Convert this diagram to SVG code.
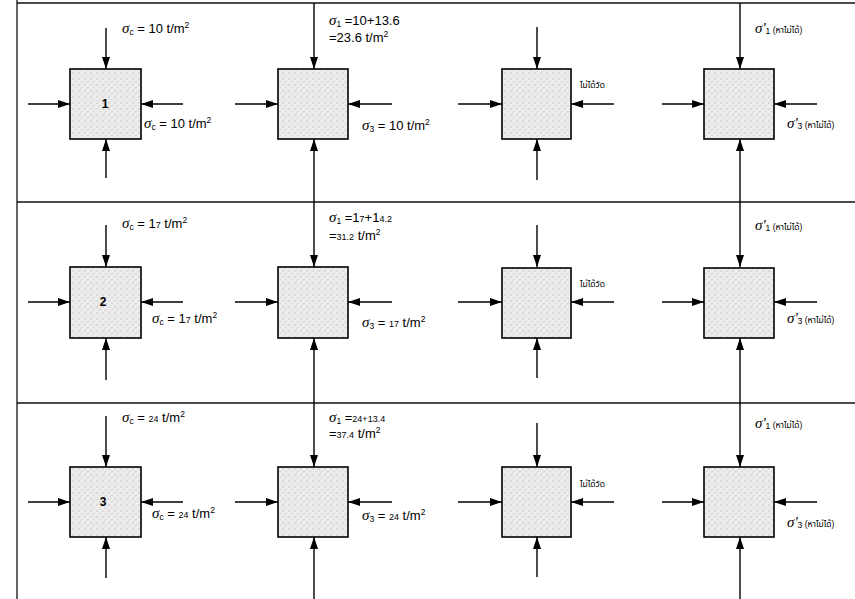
<svg xmlns="http://www.w3.org/2000/svg" width="855" height="599" viewBox="0 0 855 599">
<style>
.frame{stroke:#111;stroke-width:1.3;fill:none}
.conn line{stroke:#000;stroke-width:1.4}
.box{fill:url(#dots);stroke:#000;stroke-width:1.6}
text{font-family:"Liberation Sans",Arial,"Noto Sans Thai","Noto Sans",sans-serif;fill:#000}
.lbl{font-size:13px}
.sig{font-family:"Liberation Serif","Times New Roman",serif;font-style:italic;font-size:15px}
.sub{font-size:8.5px}
.sup{font-size:8.5px}
.sm{font-size:9px}
.th{font-size:8.5px}
.num{font-size:12px;font-weight:bold}
</style>
<defs>
<pattern id="dots" width="6" height="6" patternUnits="userSpaceOnUse">
<rect width="6" height="6" fill="#ececec"/>
<circle cx="1" cy="1" r="0.55" fill="#9a9a9a"/>
<circle cx="4" cy="3.5" r="0.5" fill="#b0b0b0"/>
<circle cx="2.5" cy="5" r="0.45" fill="#c0c0c0"/>
</pattern>
<marker id="ah" viewBox="0 0 12 8" refX="12" refY="4" markerWidth="12" markerHeight="8" markerUnits="userSpaceOnUse" orient="auto">
<path d="M0,0 L12,4 L0,8 z" fill="#000"/>
</marker>
</defs>
<rect width="855" height="599" fill="#fff"/>
<g id="frame" class="frame">
<line x1="17" y1="3" x2="855" y2="3"/>
<line x1="17" y1="202" x2="855" y2="202"/>
<line x1="17" y1="403" x2="855" y2="403"/>
<line x1="17" y1="0" x2="17" y2="599"/>
</g>
<g id="connectors" class="conn">
<line x1="106" y1="28" x2="106" y2="69" marker-end="url(#ah)"/>
<line x1="106" y1="178" x2="106" y2="139" marker-end="url(#ah)"/>
<line x1="28" y1="104" x2="70" y2="104" marker-end="url(#ah)"/>
<line x1="183" y1="104" x2="141" y2="104" marker-end="url(#ah)"/>
<line x1="314" y1="3" x2="314" y2="69" marker-end="url(#ah)"/>
<line x1="314" y1="202" x2="314" y2="139" marker-end="url(#ah)"/>
<line x1="235" y1="104" x2="278" y2="104" marker-end="url(#ah)"/>
<line x1="392" y1="104" x2="348" y2="104" marker-end="url(#ah)"/>
<line x1="537" y1="27" x2="537" y2="69" marker-end="url(#ah)"/>
<line x1="537" y1="180" x2="537" y2="139" marker-end="url(#ah)"/>
<line x1="458" y1="104" x2="502" y2="104" marker-end="url(#ah)"/>
<line x1="614" y1="104" x2="571" y2="104" marker-end="url(#ah)"/>
<line x1="740" y1="3" x2="740" y2="69" marker-end="url(#ah)"/>
<line x1="740" y1="202" x2="740" y2="139" marker-end="url(#ah)"/>
<line x1="662" y1="104" x2="704" y2="104" marker-end="url(#ah)"/>
<line x1="817" y1="104" x2="774" y2="104" marker-end="url(#ah)"/>
<line x1="106" y1="225" x2="106" y2="267" marker-end="url(#ah)"/>
<line x1="106" y1="380" x2="106" y2="338" marker-end="url(#ah)"/>
<line x1="28" y1="302" x2="70" y2="302" marker-end="url(#ah)"/>
<line x1="183" y1="302" x2="141" y2="302" marker-end="url(#ah)"/>
<line x1="314" y1="202" x2="314" y2="267" marker-end="url(#ah)"/>
<line x1="314" y1="403" x2="314" y2="338" marker-end="url(#ah)"/>
<line x1="235" y1="302" x2="278" y2="302" marker-end="url(#ah)"/>
<line x1="392" y1="302" x2="348" y2="302" marker-end="url(#ah)"/>
<line x1="537" y1="225" x2="537" y2="267" marker-end="url(#ah)"/>
<line x1="537" y1="378" x2="537" y2="338" marker-end="url(#ah)"/>
<line x1="458" y1="302" x2="502" y2="302" marker-end="url(#ah)"/>
<line x1="614" y1="302" x2="571" y2="302" marker-end="url(#ah)"/>
<line x1="740" y1="202" x2="740" y2="267" marker-end="url(#ah)"/>
<line x1="740" y1="403" x2="740" y2="338" marker-end="url(#ah)"/>
<line x1="662" y1="302" x2="704" y2="302" marker-end="url(#ah)"/>
<line x1="817" y1="302" x2="774" y2="302" marker-end="url(#ah)"/>
<line x1="106" y1="416" x2="106" y2="467" marker-end="url(#ah)"/>
<line x1="106" y1="578" x2="106" y2="537" marker-end="url(#ah)"/>
<line x1="28" y1="502" x2="70" y2="502" marker-end="url(#ah)"/>
<line x1="183" y1="502" x2="141" y2="502" marker-end="url(#ah)"/>
<line x1="314" y1="403" x2="314" y2="467" marker-end="url(#ah)"/>
<line x1="314" y1="599" x2="314" y2="537" marker-end="url(#ah)"/>
<line x1="235" y1="502" x2="278" y2="502" marker-end="url(#ah)"/>
<line x1="392" y1="502" x2="348" y2="502" marker-end="url(#ah)"/>
<line x1="537" y1="423" x2="537" y2="467" marker-end="url(#ah)"/>
<line x1="537" y1="577" x2="537" y2="537" marker-end="url(#ah)"/>
<line x1="458" y1="502" x2="502" y2="502" marker-end="url(#ah)"/>
<line x1="614" y1="502" x2="571" y2="502" marker-end="url(#ah)"/>
<line x1="740" y1="403" x2="740" y2="467" marker-end="url(#ah)"/>
<line x1="740" y1="599" x2="740" y2="537" marker-end="url(#ah)"/>
<line x1="662" y1="502" x2="704" y2="502" marker-end="url(#ah)"/>
<line x1="817" y1="502" x2="774" y2="502" marker-end="url(#ah)"/>
</g>
<g id="n1a"><rect class="box" x="70" y="69" width="71" height="70"/><text class="num" x="105" y="108" text-anchor="middle">1</text></g>
<g id="n1b"><rect class="box" x="278" y="69" width="70" height="70"/></g>
<g id="n1c"><rect class="box" x="502" y="69" width="69" height="70"/></g>
<g id="n1d"><rect class="box" x="704" y="69" width="70" height="70"/></g>
<g id="n2a"><rect class="box" x="70" y="267" width="71" height="71"/><text class="num" x="103" y="306" text-anchor="middle" font-size="10">2</text></g>
<g id="n2b"><rect class="box" x="278" y="267" width="70" height="71"/></g>
<g id="n2c"><rect class="box" x="502" y="268" width="69" height="70"/></g>
<g id="n2d"><rect class="box" x="704" y="268" width="70" height="70"/></g>
<g id="n3a"><rect class="box" x="70" y="467" width="71" height="70"/><text class="num" x="103" y="506" text-anchor="middle" font-size="10">3</text></g>
<g id="n3b"><rect class="box" x="278" y="467" width="70" height="70"/></g>
<g id="n3c"><rect class="box" x="502" y="467" width="69" height="70"/></g>
<g id="n3d"><rect class="box" x="704" y="467" width="70" height="70"/></g>
<g id="labels">
<text class="lbl" x="122" y="33"><tspan class="sig">σ</tspan><tspan class="sub" dy="2">c</tspan><tspan dy="-2"> = 10 t/m</tspan><tspan class="sup" dy="-5">2</tspan></text>
<text class="lbl" x="144" y="128"><tspan class="sig">σ</tspan><tspan class="sub" dy="2">c</tspan><tspan dy="-2"> = 10 t/m</tspan><tspan class="sup" dy="-5">2</tspan></text>
<text class="lbl" x="329" y="25"><tspan class="sig">σ</tspan><tspan class="sub" dy="2">1</tspan><tspan dy="-2"> =10+13.6</tspan></text>
<text class="lbl" x="329" y="42">=23.6 t/m<tspan class="sup" dy="-5">2</tspan></text>
<text class="lbl" x="362" y="130"><tspan class="sig">σ</tspan><tspan class="sub" dy="2">3</tspan><tspan dy="-2"> = 10 t/m</tspan><tspan class="sup" dy="-5">2</tspan></text>
<text class="th" x="580" y="88">ไม่ได้วัด</text>
<text class="lbl" x="755" y="33"><tspan class="sig">σ'</tspan><tspan class="sub" dy="1">1</tspan><tspan class="th" dy="-1"> (หาไม่ได้)</tspan></text>
<text class="lbl" x="787" y="128"><tspan class="sig">σ'</tspan><tspan class="sub" dy="1">3</tspan><tspan class="th" dy="-1"> (หาไม่ได้)</tspan></text>
<text class="lbl" x="122" y="228"><tspan class="sig">σ</tspan><tspan class="sub" dy="2">c</tspan><tspan dy="-2"> = 1</tspan><tspan class="sm">7</tspan><tspan> t/m</tspan><tspan class="sup" dy="-5">2</tspan></text>
<text class="lbl" x="152" y="323"><tspan class="sig">σ</tspan><tspan class="sub" dy="2">c</tspan><tspan dy="-2"> = 1</tspan><tspan class="sm">7</tspan><tspan> t/m</tspan><tspan class="sup" dy="-5">2</tspan></text>
<text class="lbl" x="329" y="222"><tspan class="sig">σ</tspan><tspan class="sub" dy="2">1</tspan><tspan dy="-2"> =1</tspan><tspan class="sm">7</tspan><tspan>+1</tspan><tspan class="sm">4.2</tspan></text>
<text class="lbl" x="329" y="240">=<tspan class="sm">31.2</tspan> t/m<tspan class="sup" dy="-5">2</tspan></text>
<text class="lbl" x="362" y="327"><tspan class="sig">σ</tspan><tspan class="sub" dy="2">3</tspan><tspan dy="-2"> = </tspan><tspan class="sm">17</tspan><tspan> t/m</tspan><tspan class="sup" dy="-5">2</tspan></text>
<text class="th" x="580" y="287">ไม่ได้วัด</text>
<text class="lbl" x="755" y="230"><tspan class="sig">σ'</tspan><tspan class="sub" dy="1">1</tspan><tspan class="th" dy="-1"> (หาไม่ได้)</tspan></text>
<text class="lbl" x="787" y="323"><tspan class="sig">σ'</tspan><tspan class="sub" dy="1">3</tspan><tspan class="th" dy="-1"> (หาไม่ได้)</tspan></text>
<text class="lbl" x="122" y="422"><tspan class="sig">σ</tspan><tspan class="sub" dy="2">c</tspan><tspan dy="-2"> = </tspan><tspan class="sm">24</tspan><tspan> t/m</tspan><tspan class="sup" dy="-5">2</tspan></text>
<text class="lbl" x="152" y="518"><tspan class="sig">σ</tspan><tspan class="sub" dy="2">c</tspan><tspan dy="-2"> = </tspan><tspan class="sm">24</tspan><tspan> t/m</tspan><tspan class="sup" dy="-5">2</tspan></text>
<text class="lbl" x="329" y="422"><tspan class="sig">σ</tspan><tspan class="sub" dy="2">1</tspan><tspan dy="-2"> =</tspan><tspan class="sm">24+13.4</tspan></text>
<text class="lbl" x="329" y="438">=<tspan class="sm">37.4</tspan> t/m<tspan class="sup" dy="-5">2</tspan></text>
<text class="lbl" x="362" y="520"><tspan class="sig">σ</tspan><tspan class="sub" dy="2">3</tspan><tspan dy="-2"> = </tspan><tspan class="sm">24</tspan><tspan> t/m</tspan><tspan class="sup" dy="-5">2</tspan></text>
<text class="th" x="580" y="487">ไม่ได้วัด</text>
<text class="lbl" x="755" y="428"><tspan class="sig">σ'</tspan><tspan class="sub" dy="1">1</tspan><tspan class="th" dy="-1"> (หาไม่ได้)</tspan></text>
<text class="lbl" x="787" y="527"><tspan class="sig">σ'</tspan><tspan class="sub" dy="1">3</tspan><tspan class="th" dy="-1"> (หาไม่ได้)</tspan></text>
</g>
</svg>
